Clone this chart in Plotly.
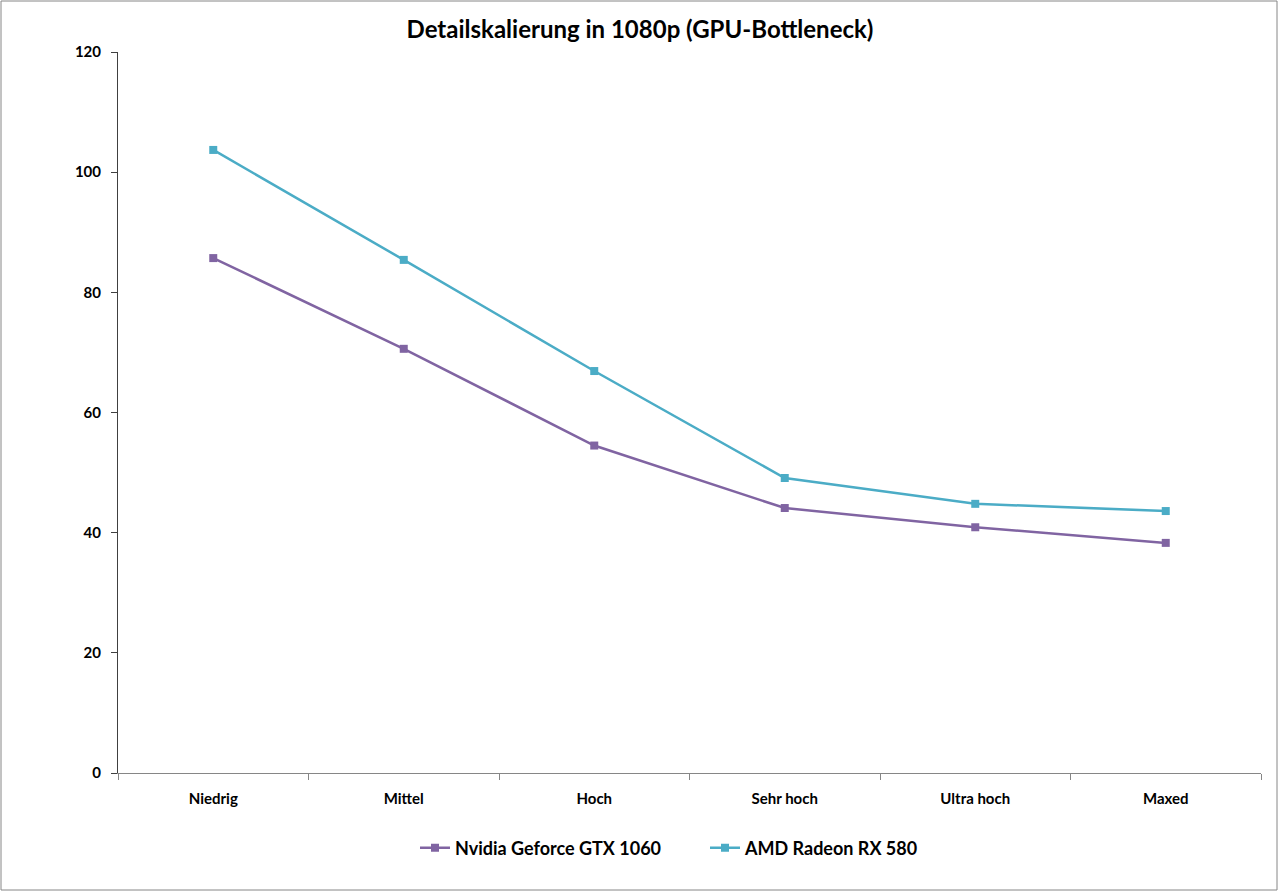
import plotly.graph_objects as go

categories = ["Niedrig", "Mittel", "Hoch", "Sehr hoch", "Ultra hoch", "Maxed"]
nvidia = [85.7, 70.6, 54.5, 44.1, 40.9, 38.3]
amd = [103.7, 85.4, 66.9, 49.1, 44.8, 43.6]
y_ticks = [0, 20, 40, 60, 80, 100, 120]

W, H = 1280, 893
ML, MR, MT, MB = 118, 19, 52, 120
PW, PH = W - ML - MR, H - MT - MB

font_family = "Lato, 'Open Sans', sans-serif"

fig = go.Figure()
fig.add_trace(go.Scatter(
    x=categories, y=nvidia, name="Nvidia Geforce GTX 1060", mode="lines+markers",
    line=dict(color="#8064A2", width=2.5),
    marker=dict(symbol="square", size=8, color="#8064A2"),
))
fig.add_trace(go.Scatter(
    x=categories, y=amd, name="AMD Radeon RX 580", mode="lines+markers",
    line=dict(color="#4BACC6", width=2.5),
    marker=dict(symbol="square", size=8, color="#4BACC6"),
))

fig.update_layout(
    width=W, height=H,
    margin=dict(l=ML, r=MR, t=MT, b=MB),
    paper_bgcolor="white", plot_bgcolor="white",
    font=dict(family=font_family, color="black"),
    title=dict(text="<b>Detailskalierung in 1080p (GPU-Bottleneck)</b>",
               x=0.5, xanchor="center", y=1 - 30 / H, yanchor="middle",
               font=dict(size=24, family=font_family, color="black")),
    xaxis=dict(
        type="category", range=[-0.5, 5.5],
        showline=True, linecolor="#868686", linewidth=1,
        ticks="outside", tickson="boundaries", ticklen=6, tickcolor="#868686",
        showgrid=False, zeroline=False, ticklabelstandoff=12,
        tickfont=dict(size=15, family=font_family, color="black", weight="bold"),
    ),
    yaxis=dict(
        range=[0, 120], tickvals=y_ticks, ticktext=[str(v) for v in y_ticks],
        showline=True, linecolor="#404040", linewidth=1,
        ticks="outside", ticklen=6, tickcolor="#404040",
        showgrid=False, zeroline=False, ticklabelstandoff=7,
        tickfont=dict(size=15, family=font_family, color="black", weight="bold"),
    ),
    legend=dict(
        orientation="h", x=(415 - ML) / PW, xanchor="left",
        y=-(848 - MT - PH) / PH, yanchor="middle",
        font=dict(size=18, family=font_family, color="black", weight="bold"),
        entrywidth=245, entrywidthmode="pixels", itemwidth=30, tracegroupgap=0,
    ),
    shapes=[dict(
        type="rect", xref="paper", yref="paper",
        x0=-(ML - 1) / PW, x1=1 + (MR - 3) / PW,
        y0=-(MB - 3) / PH, y1=1 + (MT - 1) / PH,
        line=dict(color="#868686", width=1), fillcolor="rgba(0,0,0,0)",
        layer="below",
    )],
)

fig.write_html("out.html")
